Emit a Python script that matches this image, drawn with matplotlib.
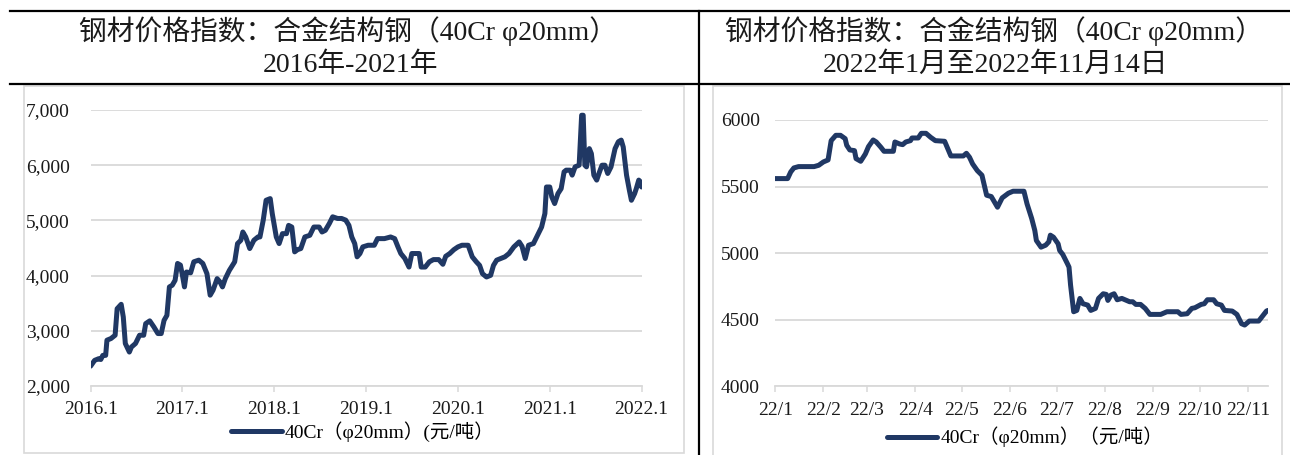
import numpy as np
import matplotlib.pyplot as plt
from matplotlib.lines import Line2D
from matplotlib.patches import Rectangle
from matplotlib.ticker import FuncFormatter

plt.rcParams['font.family'] = ['Liberation Serif', 'Noto Sans CJK SC']

# 2016-2021: weekly index, time in years
left_t = [2016.000, 2016.044, 2016.089, 2016.111, 2016.133, 2016.164, 2016.178, 2016.222, 2016.267, 2016.289,
          2016.333, 2016.356, 2016.378, 2016.422, 2016.444, 2016.489, 2016.533, 2016.578, 2016.600, 2016.644,
          2016.689, 2016.733, 2016.769, 2016.800, 2016.831, 2016.858, 2016.889, 2016.920, 2016.947, 2016.978,
          2017.000, 2017.022, 2017.044, 2017.089, 2017.124, 2017.178, 2017.222, 2017.267, 2017.302, 2017.333,
          2017.378, 2017.409, 2017.436, 2017.467, 2017.511, 2017.569, 2017.600, 2017.636, 2017.658, 2017.689,
          2017.733, 2017.778, 2017.822, 2017.844, 2017.880, 2017.911, 2017.956, 2017.978, 2018.022, 2018.053,
          2018.089, 2018.133, 2018.156, 2018.191, 2018.222, 2018.253, 2018.289, 2018.333, 2018.387, 2018.431,
          2018.489, 2018.520, 2018.556, 2018.600, 2018.636, 2018.689, 2018.733, 2018.778, 2018.813, 2018.844,
          2018.876, 2018.902, 2018.933, 2018.964, 2019.022, 2019.089, 2019.124, 2019.200, 2019.267, 2019.311,
          2019.347, 2019.378, 2019.422, 2019.467, 2019.498, 2019.578, 2019.600, 2019.644, 2019.689, 2019.733,
          2019.791, 2019.836, 2019.867, 2019.911, 2019.956, 2020.000, 2020.044, 2020.111, 2020.156, 2020.200,
          2020.236, 2020.267, 2020.311, 2020.356, 2020.387, 2020.422, 2020.467, 2020.511, 2020.556, 2020.609,
          2020.667, 2020.698, 2020.733, 2020.769, 2020.822, 2020.867, 2020.911, 2020.947, 2020.964, 2021.000,
          2021.022, 2021.053, 2021.089, 2021.124, 2021.156, 2021.178, 2021.222, 2021.244, 2021.276, 2021.320,
          2021.347, 2021.364, 2021.382, 2021.400, 2021.431, 2021.453, 2021.480, 2021.511, 2021.542, 2021.569,
          2021.600, 2021.631, 2021.667, 2021.711, 2021.747, 2021.778, 2021.800, 2021.836, 2021.867, 2021.889,
          2021.924, 2021.942, 2021.969, 2021.987, 2022.000]
left_v = [2360, 2465, 2495, 2480, 2555, 2555, 2830, 2860, 2920, 3400,
          3480, 3250, 2770, 2615, 2705, 2770, 2920, 2920, 3130, 3180,
          3070, 2950, 2950, 3190, 3280, 3795, 3825, 3915, 4220, 4190,
          4005, 3795, 4065, 4050, 4250, 4280, 4220, 4035, 3645, 3735,
          3945, 3885, 3795, 3945, 4095, 4250, 4580, 4640, 4790, 4700,
          4490, 4640, 4700, 4700, 5005, 5365, 5395, 5125, 4700, 4580,
          4760, 4760, 4910, 4880, 4430, 4470, 4490, 4700, 4730, 4880,
          4880, 4790, 4820, 4945, 5065, 5035, 5035, 5005, 4910, 4700,
          4580, 4340, 4400, 4520, 4550, 4550, 4670, 4670, 4700, 4670,
          4520, 4400, 4310, 4155, 4400, 4400, 4155, 4155, 4250, 4290,
          4290, 4205, 4350, 4400, 4470, 4520, 4550, 4550, 4340, 4250,
          4185, 4035, 3975, 4005, 4185, 4280, 4310, 4340, 4400, 4520,
          4610, 4530, 4310, 4550, 4580, 4730, 4880, 5125, 5605, 5605,
          5425, 5305, 5485, 5575, 5880, 5910, 5910, 5820, 5970, 6000,
          6905, 6905, 6000, 5970, 6300, 6210, 5820, 5730, 5880, 6000,
          6000, 5850, 5970, 6300, 6425, 6455, 6330, 5820, 5545, 5365,
          5485, 5575, 5730, 5700, 5605]
left_ticks = [2016, 2017, 2018, 2019, 2020, 2021, 2022]
left_ticklabels = ['2016.1', '2017.1', '2018.1', '2019.1', '2020.1', '2021.1', '2022.1']

# 2022: days since 2022-01-01
right_day = [0, 8, 10, 12, 15, 25, 28, 31, 34, 36, 39, 42, 45, 46, 48, 51, 52, 55, 58, 60,
             63, 65, 68, 70, 76, 77, 80, 82, 84, 87, 88, 92, 94, 97, 100, 103, 109, 111, 113, 121,
             123, 125, 127, 130, 133, 134, 136, 139, 143, 146, 150, 153, 160, 162, 165, 167, 168, 171, 174, 176,
             177, 179, 182, 183, 185, 188, 189, 190, 192, 194, 196, 198, 201, 203, 206, 208, 211, 213, 214, 216,
             218, 220, 223, 225, 228, 230, 232, 235, 238, 241, 248, 252, 259, 261, 265, 268, 270, 274, 276, 278,
             282, 284, 287, 289, 294, 297, 300, 302, 305, 311, 314, 316, 317]
right_v = [5560, 5560, 5610, 5640, 5650, 5650, 5660, 5685, 5700, 5845, 5885, 5885, 5860, 5810, 5775, 5770, 5710, 5690, 5745, 5800,
           5850, 5835, 5795, 5765, 5765, 5835, 5820, 5815, 5835, 5845, 5865, 5865, 5900, 5900, 5870, 5845, 5840, 5785, 5730, 5730,
           5750, 5720, 5670, 5620, 5585, 5535, 5435, 5425, 5345, 5415, 5450, 5465, 5465, 5370, 5260, 5170, 5095, 5045, 5060, 5085,
           5135, 5120, 5070, 5020, 4990, 4920, 4895, 4760, 4560, 4570, 4660, 4620, 4610, 4570, 4585, 4660, 4695, 4690, 4645, 4685,
           4695, 4650, 4660, 4650, 4635, 4635, 4615, 4615, 4585, 4540, 4540, 4560, 4560, 4540, 4545, 4585, 4590, 4615, 4620, 4650,
           4650, 4620, 4610, 4570, 4565, 4540, 4470, 4460, 4490, 4490, 4535, 4565, 4570]
right_months = ['2022-%02d-01' % m for m in range(1, 12)]
right_ticklabels = ['22/%d' % m for m in range(1, 12)]

title_1 = '钢材价格指数：合金结构钢（40Cr φ20mm）'
title_left = '2016年-2021年'
title_right = '2022年1月至2022年11月14日'
legend_left = '40Cr（φ20mm）(元/吨）'
legend_right = '40Cr（φ20mm）（元/吨）'

W, H = 1290, 455
navy = '#203864'
grey = '#d9d9d9'
txt = '#1a1a1a'

fig = plt.figure(figsize=(W / 100, H / 100), dpi=100)


def box(x0, y0, x1, y1):
    return [x0 / W, 1 - y1 / H, (x1 - x0) / W, (y1 - y0) / H]


# table frame
for y in (11, 84):
    fig.add_artist(Line2D([10 / W, 1], [1 - y / H, 1 - y / H], color='black', lw=1.6))
fig.add_artist(Line2D([699 / W, 699 / W], [0, 1 - 11 / H], color='black', lw=1.6))
fig.add_artist(Rectangle((24 / W, 1 - 453 / H), 660 / W, 367 / H, transform=fig.transFigure,
                         fill=False, edgecolor=grey, lw=1.2))
fig.add_artist(Rectangle((713 / W, -0.05), 569 / W, 1 - 86 / H + 0.05, transform=fig.transFigure,
                         fill=False, edgecolor=grey, lw=1.2))

fig.text(348 / W, 1 - 31 / H, title_1, fontsize=20, ha='center', va='center', color=txt)
fig.text(350 / W, 1 - 65 / H, title_left, fontsize=20, ha='center', va='center', color=txt)
fig.text(994 / W, 1 - 31 / H, title_1, fontsize=20, ha='center', va='center', color=txt)
fig.text(996 / W, 1 - 65 / H, title_right, fontsize=20, ha='center', va='center', color=txt)


def style(ax, pady):
    for s in ('top', 'left', 'right'):
        ax.spines[s].set_visible(False)
    ax.spines['bottom'].set_color(grey)
    ax.spines['bottom'].set_linewidth(1.3)
    ax.yaxis.grid(True, color=grey, lw=1.3)
    ax.set_axisbelow(True)
    ax.tick_params(axis='y', length=0, pad=pady, labelsize=14, labelcolor=txt)
    ax.tick_params(axis='x', length=4, width=1.1, color=grey, pad=7, labelsize=14, labelcolor=txt)


# left chart
ax1 = fig.add_axes(box(90.6, 110, 641.6, 386))
ax1.plot(left_t, left_v, color=navy, lw=3.6, solid_joinstyle='round', solid_capstyle='round',
         label=legend_left)
ax1.set_xlim(2016, 2022)
ax1.set_ylim(2000, 7000)
ax1.set_yticks([2000, 3000, 4000, 5000, 6000, 7000])
ax1.yaxis.set_major_formatter(FuncFormatter(lambda v, p: '{:,.0f}'.format(v)))
ax1.set_xticks(left_ticks)
ax1.set_xticklabels(left_ticklabels)
style(ax1, 15)
fig.legend(*ax1.get_legend_handles_labels(), loc='center', bbox_to_anchor=(363 / W, 1 - 432 / H),
           frameon=False, fontsize=14, handlelength=2.6, handletextpad=0.15, borderpad=0)

# right chart
start = np.datetime64('2022-01-01')
right_dates = start + np.array(right_day).astype('timedelta64[D]')
ax2 = fig.add_axes(box(775.2, 120, 1268, 386.3))
ax2.plot(right_dates, right_v, color=navy, lw=3.6, solid_joinstyle='round', solid_capstyle='round',
         label=legend_right)
ax2.set_xlim(start, right_dates[-1])
ax2.set_ylim(4000, 6000)
ax2.set_yticks([4000, 4500, 5000, 5500, 6000])
ax2.set_xticks(np.array(right_months, dtype='datetime64[D]'))
ax2.set_xticklabels(right_ticklabels)
style(ax2, 11)
fig.legend(*ax2.get_legend_handles_labels(), loc='center', bbox_to_anchor=(1025 / W, 1 - 437 / H),
           frameon=False, fontsize=14, handlelength=2.6, handletextpad=0.15, borderpad=0)

fig.savefig('out.png', dpi=100)
